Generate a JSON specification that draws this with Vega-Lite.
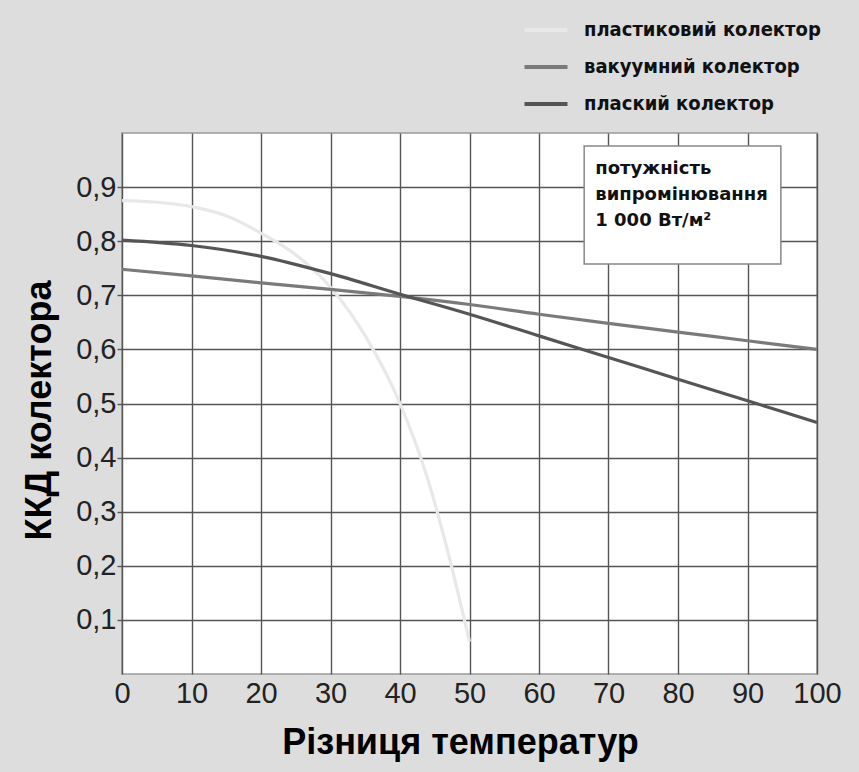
{
  "$schema": "https://vega.github.io/schema/vega-lite/v6.json",
  "width": 695,
  "height": 541,
  "autosize": "none",
  "padding": {"left": 122, "top": 133, "right": 42, "bottom": 98},
  "background": "#dddddd",
  "config": {
    "view": {"fill": "white", "stroke": "#9a9a9a", "strokeWidth": 1.5},
    "font": "Liberation Sans"
  },
  "datasets": {
    "curves": [
      {"t": 0, "eta": 0.875, "series": "пластиковий колектор"},
      {"t": 5, "eta": 0.872, "series": "пластиковий колектор"},
      {"t": 10, "eta": 0.864, "series": "пластиковий колектор"},
      {"t": 15, "eta": 0.847, "series": "пластиковий колектор"},
      {"t": 20, "eta": 0.815, "series": "пластиковий колектор"},
      {"t": 25, "eta": 0.775, "series": "пластиковий колектор"},
      {"t": 30, "eta": 0.715, "series": "пластиковий колектор"},
      {"t": 35, "eta": 0.625, "series": "пластиковий колектор"},
      {"t": 40, "eta": 0.5, "series": "пластиковий колектор"},
      {"t": 44, "eta": 0.36, "series": "пластиковий колектор"},
      {"t": 47, "eta": 0.22, "series": "пластиковий колектор"},
      {"t": 50, "eta": 0.06, "series": "пластиковий колектор"},
      {"t": 0, "eta": 0.748, "series": "вакуумний колектор"},
      {"t": 10, "eta": 0.736, "series": "вакуумний колектор"},
      {"t": 20, "eta": 0.723, "series": "вакуумний колектор"},
      {"t": 30, "eta": 0.711, "series": "вакуумний колектор"},
      {"t": 40, "eta": 0.698, "series": "вакуумний колектор"},
      {"t": 50, "eta": 0.683, "series": "вакуумний колектор"},
      {"t": 60, "eta": 0.665, "series": "вакуумний колектор"},
      {"t": 70, "eta": 0.648, "series": "вакуумний колектор"},
      {"t": 80, "eta": 0.632, "series": "вакуумний колектор"},
      {"t": 90, "eta": 0.616, "series": "вакуумний колектор"},
      {"t": 100, "eta": 0.6, "series": "вакуумний колектор"},
      {"t": 0, "eta": 0.802, "series": "плаский колектор"},
      {"t": 10, "eta": 0.792, "series": "плаский колектор"},
      {"t": 20, "eta": 0.772, "series": "плаский колектор"},
      {"t": 30, "eta": 0.74, "series": "плаский колектор"},
      {"t": 40, "eta": 0.702, "series": "плаский колектор"},
      {"t": 50, "eta": 0.665, "series": "плаский колектор"},
      {"t": 60, "eta": 0.625, "series": "плаский колектор"},
      {"t": 70, "eta": 0.585, "series": "плаский колектор"},
      {"t": 80, "eta": 0.545, "series": "плаский колектор"},
      {"t": 90, "eta": 0.505, "series": "плаский колектор"},
      {"t": 100, "eta": 0.465, "series": "плаский колектор"}
    ],
    "box": [{"x1": 66.5, "x2": 94.8, "y1": 0.758, "y2": 0.976}],
    "note": [{"x": 68.1, "y": 0.95, "label": "потужність\nвипромінювання\n1 000 Вт/м²"}]
  },
  "layer": [
    {
      "data": {"name": "curves"},
      "mark": {"type": "line", "strokeWidth": 3.2, "interpolate": "monotone"},
      "encoding": {
        "x": {
          "field": "t", "type": "quantitative",
          "scale": {"domain": [0, 100], "nice": false},
          "axis": {
            "values": [0, 10, 20, 30, 40, 50, 60, 70, 80, 90, 100],
            "title": "Різниця температур",
            "titleFont": "Liberation Sans", "titleFontSize": 36, "titleFontWeight": "bold",
            "titleColor": "#000", "titleX": 338, "titleY": 79, "titleBaseline": "alphabetic",
            "labelFont": "Liberation Sans", "labelFontSize": 29, "labelColor": "#222",
            "labelPadding": 5, "ticks": false, "domain": false,
            "grid": true, "gridColor": "#555", "gridWidth": 1.4,
            "labelFlush": false
          }
        },
        "y": {
          "field": "eta", "type": "quantitative",
          "scale": {"domain": [0, 1], "nice": false},
          "axis": {
            "values": [0.1, 0.2, 0.3, 0.4, 0.5, 0.6, 0.7, 0.8, 0.9],
            "labelExpr": "replace(format(datum.value, '.1f'), '.', ',')",
            "title": "ККД колектора",
            "titleFont": "Liberation Sans", "titleFontSize": 36, "titleFontWeight": "bold",
            "titleColor": "#000", "titleX": -72, "titleY": 277, "titleBaseline": "alphabetic",
            "titleAngle": -90,
            "labelFont": "Liberation Sans", "labelFontSize": 29, "labelColor": "#222",
            "labelPadding": 1, "ticks": true, "tickSize": 5, "tickColor": "#555", "tickWidth": 1.4,
            "domain": false,
            "grid": true, "gridColor": "#555", "gridWidth": 1.4
          }
        },
        "color": {
          "field": "series", "type": "nominal",
          "scale": {
            "domain": ["пластиковий колектор", "вакуумний колектор", "плаский колектор"],
            "range": ["#e8e8e8", "#7a7a7a", "#555555"]
          },
          "legend": {
            "orient": "none", "legendX": 400, "legendY": -127,
            "title": null, "symbolType": "stroke", "symbolStrokeWidth": 4,
            "symbolSize": 1850, "labelFont": "'DejaVu Sans Condensed', 'DejaVu Sans'",
            "labelFontSize": 20, "labelFontWeight": "bold", "labelColor": "#111",
            "rowPadding": 3, "labelOffset": 14, "labelLimit": 400
          }
        }
      }
    },
    {
      "data": {"name": "box"},
      "mark": {"type": "rect", "fill": "white", "stroke": "#888", "strokeWidth": 1.5},
      "encoding": {
        "x": {"field": "x1", "type": "quantitative"},
        "x2": {"field": "x2"},
        "y": {"field": "y1", "type": "quantitative"},
        "y2": {"field": "y2"}
      }
    },
    {
      "data": {"name": "note"},
      "mark": {"type": "text", "align": "left", "baseline": "top", "lineBreak": "\n",
               "font": "DejaVu Sans", "fontSize": 18, "fontWeight": "bold",
               "lineHeight": 26, "color": "#111"},
      "encoding": {
        "x": {"field": "x", "type": "quantitative"},
        "y": {"field": "y", "type": "quantitative"},
        "text": {"field": "label"}
      }
    }
  ]
}
